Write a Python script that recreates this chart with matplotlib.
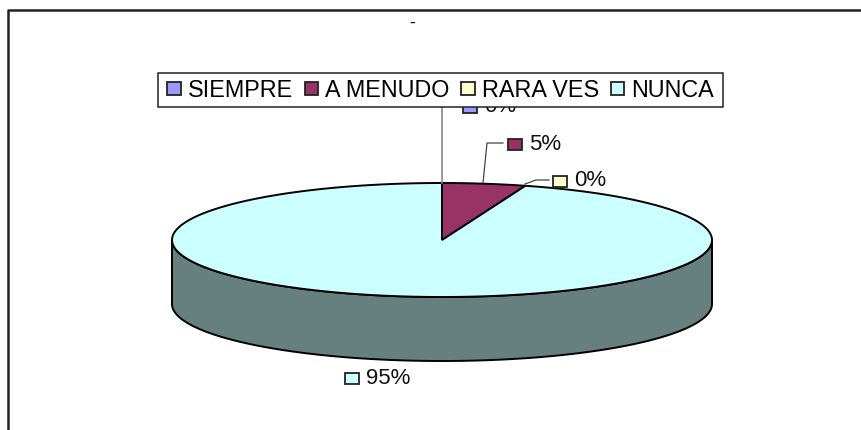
import numpy as np
import matplotlib
matplotlib.use("Agg")
import matplotlib.pyplot as plt
from matplotlib.patches import Polygon, Rectangle

plt.rcParams['font.family'] = ['Liberation Sans', 'DejaVu Sans']

categories = ['SIEMPRE', 'A MENUDO', 'RARA VES', 'NUNCA']
values = [0, 5, 0, 95]
colors = ['#9999FF', '#993366', '#FFFFCC', '#CCFFFF']
side_color = '#668080'

# pie geometry in pixels
cx, cy = 442, 240
rx, ry = 270, 57
depth = 64


def rim(t0, t1, dy=0):
    # t in degrees clockwise from 12 o'clock
    t = np.radians(np.linspace(t0, t1, 200))
    return np.column_stack([cx + rx*np.sin(t), cy - ry*np.cos(t) + dy])


def swatch(ax, x, y, c, w=14, h=11):
    ax.add_patch(Rectangle((x - w/2, y - h/2), w, h, fc=c, ec='#222222', lw=1.3, zorder=5))


fig = plt.figure(figsize=(8.62, 4.30), dpi=100)
ax = fig.add_axes([0, 0, 1, 1])
ax.set_xlim(0, 862)
ax.set_ylim(430, 0)
ax.axis('off')

# outer chart border, runs off the right and bottom of the picture
ax.plot([8, 8, 862], [430, 9.5, 9.5], color='#222222', lw=1.8, zorder=1)
ax.text(412, 23, '-', fontsize=13, ha='center', va='center', color='black')

# side wall, front half only
front = rim(90, 270)
wall = np.vstack([front, rim(270, 90, depth)])
ax.add_patch(Polygon(wall, closed=True, fc=side_color, ec='black', lw=1.4, zorder=2))

# top face, slices start at 12 o'clock and go clockwise
angle = 0
for v, c in zip(values, colors):
    a1 = angle + v * 3.6
    if v > 0:
        pts = np.vstack([[cx, cy], rim(angle, a1)])
        ax.add_patch(Polygon(pts, closed=True, fc=c, ec='black', lw=1.4, zorder=3))
    angle = a1

# leader lines
lead = '#444444'
ax.plot([442, 442], [183, 105], color='#888888', lw=1.2, zorder=4)
ax.plot([483, 487, 503], [183, 143, 143], color=lead, lw=0.9, zorder=4)
ax.plot([525, 536, 549], [184, 180, 180], color=lead, lw=0.9, zorder=4)

# data labels, the first one sits partly under the legend
label_pos = [(470, 107), (515, 144), (560, 181), (352, 378)]
for (x, y), v, c in zip(label_pos, values, colors):
    swatch(ax, x, y, c)
    ax.text(x + 14, y, '%d%%' % v, fontsize=16, va='center', ha='left', color='#111111', zorder=5)

# legend frame drawn by hand so the entries can be inset like the reference
ax.add_patch(Rectangle((158, 73), 565, 34, fc='white', ec='#222222', lw=1.1, zorder=9))
handles = [plt.Rectangle((0, 0), 1, 1, fc=c, ec='#222222', lw=1.3) for c in colors]
leg = ax.legend(handles, categories, ncol=4, loc='upper left',
                bbox_to_anchor=(161/862, 1 - 73/430), borderaxespad=0,
                fontsize=16.8, handlelength=0.58, handleheight=0.48, handletextpad=0.3,
                columnspacing=0.5, borderpad=0.26, frameon=False)
leg.set_zorder(10)

fig.savefig('out.png', dpi=100, facecolor='white')
